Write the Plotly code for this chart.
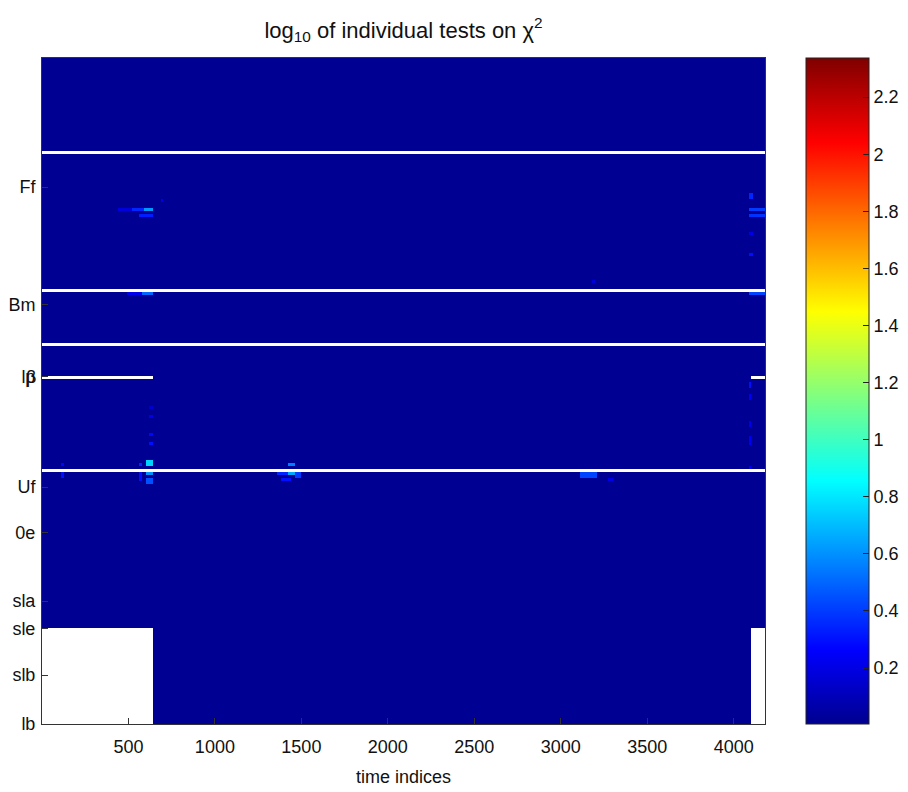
import numpy as np
import plotly.graph_objects as go

# ---------------- data ----------------
n_time = 4180          # number of time indices
bin_width = 10         # time indices per heatmap column
n_rows = 222           # number of test rows
base_value = 0.01      # log10 value of almost all tests

# y tick labels (row position, label)
ytick_rows = [43, 82.3, 106.3, 143, 158.3, 181, 190.3, 205.7, 222]
ytick_text = ["Ff", "Bm", "lp", "Uf", "0e", "sla", "sle", "slb", "lb"]
extra_label_row = 106.3
extra_label_text = "β"

# rows with no value over the whole record
empty_rows = [31, 77, 95, 137]
# rows / blocks with no value only at start and end of the record
partial_empty_rows = [106]
block_rows = (190, 222)
missing_start_end = 643     # last time index missing at start
missing_end_start = 4103    # first time index missing at end

# isolated higher values: (t_start, t_end, row_start, row_end, value)
hot_spots = [
    (437, 520, 50, 51, 0.18), (520, 590, 50, 51, 0.35), (590, 645, 50, 51, 0.62),
    (560, 645, 52, 53, 0.33), (690, 705, 47, 48, 0.22),
    (494, 580, 78, 79, 0.22), (580, 645, 78, 79, 0.5),
    (620, 640, 116, 117, 0.15), (620, 640, 119, 120, 0.22), (620, 640, 125, 126, 0.28),
    (620, 640, 128, 129, 0.3),
    (110, 135, 135, 136, 0.28), (110, 135, 138, 140, 0.3),
    (560, 580, 135, 136, 0.35), (560, 580, 138, 141, 0.3),
    (600, 640, 134, 136, 0.75), (600, 640, 138, 139, 0.6), (600, 640, 140, 142, 0.45),
    (1360, 1420, 138, 139, 0.35), (1420, 1460, 135, 136, 0.55), (1420, 1480, 138, 139, 0.65),
    (1380, 1440, 140, 141, 0.3), (1460, 1505, 138, 140, 0.4),
    (3110, 3210, 138, 140, 0.42), (3270, 3300, 140, 141, 0.2), (3180, 3200, 74, 75, 0.18),
    (4094, 4115, 45, 47, 0.35), (4094, 4180, 50, 51, 0.4), (4094, 4180, 52, 53, 0.38),
    (4094, 4110, 58, 59, 0.2), (4094, 4110, 65, 66, 0.3),
    (4090, 4180, 78, 79, 0.42),
    (4090, 4105, 108, 110, 0.3), (4090, 4105, 112, 114, 0.25),
    (4090, 4105, 121, 123, 0.22), (4090, 4105, 126, 129, 0.25), (4090, 4105, 136, 137, 0.25),
]

# colour axis
zmin, zmax = 0.004, 2.337
cbar_ticks = [0.2, 0.4, 0.6, 0.8, 1.0, 1.2, 1.4, 1.6, 1.8, 2.0, 2.2]
cbar_text = ["0.2", "0.4", "0.6", "0.8", "1", "1.2", "1.4", "1.6", "1.8", "2", "2.2"]
x_ticks = [500, 1000, 1500, 2000, 2500, 3000, 3500, 4000]

# ---------------- build matrix ----------------
n_cols = n_time // bin_width
x_edges = 0.5 + bin_width * np.arange(n_cols + 1)
x_centers = 0.5 * (x_edges[:-1] + x_edges[1:])
y_edges = np.arange(n_rows + 1)

z = np.full((n_rows, n_cols), base_value)
for r in empty_rows:
    z[r, :] = np.nan
missing = (x_centers <= missing_start_end) | (x_centers >= missing_end_start)
for r in partial_empty_rows:
    z[r, missing] = np.nan
for r in range(block_rows[0], block_rows[1]):
    z[r, missing] = np.nan
for t0, t1, r0, r1, v in hot_spots:
    cols = (x_centers >= t0) & (x_centers <= t1)
    for r in range(r0, r1):
        z[r, cols] = v

jet = [
    [0.0, "rgb(0,0,143)"],
    [0.111, "rgb(0,0,255)"],
    [0.365, "rgb(0,255,255)"],
    [0.619, "rgb(255,255,0)"],
    [0.873, "rgb(255,0,0)"],
    [1.0, "rgb(128,0,0)"],
]

FONT = "Liberation Sans, Arial, sans-serif"
TXT = "#111111"

fig = go.Figure(go.Heatmap(
    z=z, x=x_edges, y=y_edges, colorscale=jet, zmin=zmin, zmax=zmax,
    hoverongaps=False,
    colorbar=dict(
        x=1.0567, xanchor="left", xref="paper", y=0.5, yanchor="middle",
        xpad=0, ypad=0,
        len=1.0, lenmode="fraction", thickness=63, thicknessmode="pixels",
        outlinewidth=1, outlinecolor="#222",
        tickvals=cbar_ticks, ticktext=cbar_text, ticks="inside", ticklen=6,
        tickcolor="#222", tickfont=dict(family=FONT, size=18, color=TXT),
    ),
))

fig.update_layout(
    width=908, height=792,
    margin=dict(l=42, r=143, t=58, b=68, autoexpand=False),
    paper_bgcolor="white", plot_bgcolor="white",
    font=dict(family=FONT, size=18, color=TXT),
    title=dict(text="log<sub>10</sub> of individual tests on χ<sup>2</sup>",
               x=0.5, xref="paper", xanchor="center",
               y=1 - 30 / 792, yanchor="middle",
               font=dict(family=FONT, size=22, color=TXT)),
    showlegend=False,
)
fig.update_xaxes(
    range=[x_edges[0], x_edges[-1]], tickvals=x_ticks, ticks="inside", ticklen=6,
    tickcolor="#333", showline=True, mirror=True, linecolor="#333", linewidth=1,
    showgrid=False, zeroline=False, ticklabelstandoff=6,
    tickfont=dict(family=FONT, size=18, color=TXT),
    title=dict(text="time indices", standoff=14, font=dict(family=FONT, size=18, color=TXT)),
)
fig.update_yaxes(
    range=[n_rows, 0], tickvals=ytick_rows, ticktext=ytick_text, ticks="inside", ticklen=6,
    tickcolor="#333", showline=True, mirror=True, linecolor="#333", linewidth=1,
    showgrid=False, zeroline=False, ticklabelstandoff=2,
    tickfont=dict(family=FONT, size=18, color=TXT),
)
fig.add_annotation(
    text=extra_label_text, xref="paper", yref="y", x=0, y=extra_label_row,
    xanchor="right", yanchor="middle", xshift=-4, showarrow=False,
    font=dict(family=FONT, size=18, color=TXT),
)

fig.write_html("out.html")
